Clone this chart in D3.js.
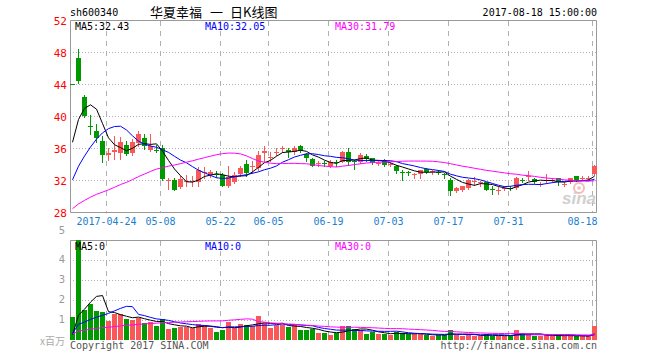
<!DOCTYPE html>
<html>
<head>
<meta charset="utf-8">
<script src="https://cdn.jsdelivr.net/npm/d3@7/dist/d3.min.js"></script>
<style>
body { margin: 0; background: #fff; }
text { font-family: "DejaVu Sans Mono", monospace; font-size: 10px; }
</style>
</head>
<body>
<div id="chart"></div>
<script>
// Data -- daily K line, sh600340
var dates = [
	"2017-04-14","2017-04-17","2017-04-18","2017-04-19","2017-04-20","2017-04-21","2017-04-24","2017-04-25","2017-04-26","2017-04-27","2017-04-28",
	"2017-05-02","2017-05-03","2017-05-04","2017-05-05","2017-05-08","2017-05-09","2017-05-10","2017-05-11","2017-05-12",
	"2017-05-15","2017-05-16","2017-05-17","2017-05-18","2017-05-19","2017-05-22","2017-05-23","2017-05-24","2017-05-25","2017-05-26","2017-05-31",
	"2017-06-01","2017-06-02","2017-06-05","2017-06-06","2017-06-07","2017-06-08","2017-06-09","2017-06-12","2017-06-13","2017-06-14","2017-06-15","2017-06-16",
	"2017-06-19","2017-06-20","2017-06-21","2017-06-22","2017-06-23","2017-06-26","2017-06-27","2017-06-28","2017-06-29","2017-06-30",
	"2017-07-03","2017-07-04","2017-07-05","2017-07-06","2017-07-07","2017-07-10","2017-07-11","2017-07-12","2017-07-13","2017-07-14",
	"2017-07-17","2017-07-18","2017-07-19","2017-07-20","2017-07-21","2017-07-24","2017-07-25","2017-07-26","2017-07-27","2017-07-28","2017-07-31",
	"2017-08-01","2017-08-02","2017-08-03","2017-08-04","2017-08-07","2017-08-08","2017-08-09","2017-08-10","2017-08-11",
	"2017-08-14","2017-08-15","2017-08-16","2017-08-17","2017-08-18"
];
var open = [
	44.02,47.3,42.4,38.8,38.1,36.9,35.1,35.45,35.4,36.4,35.4,
	36.6,37.3,35.8,35.75,36.0,31.9,32.05,31.1,31.75,
	31.8,31.8,32.9,32.6,32.75,32.6,31.2,31.8,32.7,34.0,33.6,
	33.5,35.4,34.8,35.4,35.9,35.7,35.5,36.2,35.3,34.65,34.05,34.15,
	33.7,34.25,34.3,35.5,34.35,34.3,35.0,34.7,34.05,34.5,
	33.95,33.8,33.05,32.95,32.65,32.7,33.4,33.05,33.05,32.75,
	32.0,30.6,30.7,31.0,31.8,31.65,31.7,30.85,30.75,30.95,31.05,
	31.0,32.05,32.4,32.1,31.45,31.95,31.95,32.2,31.45,
	31.7,32.45,32.15,32.15,32.7
];
var high = [
	44.02,48.4,42.66,40.1,39.0,37.45,36.0,37.45,37.4,36.9,37.1,
	38.1,37.8,37.8,36.4,36.4,32.25,32.3,32.5,32.6,
	32.5,33.6,33.6,33.3,33.1,32.9,33.7,33.0,33.8,34.5,34.4,
	35.6,36.2,35.5,36.0,36.3,36.0,36.2,36.4,35.4,34.7,34.4,34.4,
	34.5,34.5,35.6,36.0,34.5,35.4,35.2,34.8,34.4,34.6,
	34.2,33.9,33.3,33.1,32.9,33.3,33.5,33.3,33.2,32.9,
	32.2,31.1,31.3,32.1,32.4,31.9,31.8,31.2,31.1,31.3,31.3,
	32.4,32.3,33.1,32.3,31.7,32.7,32.3,32.3,31.7,
	32.3,32.5,32.5,32.5,33.9
];
var low = [
	44.02,44.1,39.9,37.7,36.75,34.2,34.5,34.6,34.6,35.1,35.1,
	36.3,35.85,35.6,35.45,32.0,30.9,30.7,30.95,31.2,
	31.3,31.2,32.3,32.4,32.4,31.2,31.1,31.6,32.5,32.5,32.9,
	33.3,34.3,34.4,35.1,35.5,34.9,35.3,35.5,34.4,33.8,33.8,33.8,
	33.6,33.8,34.2,33.9,33.4,34.1,34.4,34.0,33.9,33.7,
	33.7,32.9,32.0,32.6,32.3,32.3,32.9,32.8,32.7,32.3,
	30.1,30.5,30.6,30.9,31.4,31.3,30.7,30.2,30.2,30.8,30.8,
	30.9,31.7,32.0,31.6,31.3,31.6,31.8,31.4,31.3,
	31.6,31.9,32.0,32.0,32.6
];
var close = [
	44.02,44.35,40.0,38.6,37.3,35.1,35.35,35.7,36.8,35.3,36.7,
	37.75,36.2,36.3,35.65,32.1,32.0,30.8,32.15,31.85,
	31.9,33.3,33.0,33.0,32.7,31.3,32.4,32.6,33.5,32.9,33.7,
	35.15,35.6,34.9,35.5,36.0,35.5,36.0,35.6,34.8,33.8,34.1,34.1,
	34.2,34.2,35.5,34.3,34.3,35.1,34.6,34.1,34.1,33.9,
	34.0,33.1,33.0,32.9,32.7,33.2,33.0,33.1,33.0,32.7,
	30.6,31.0,31.2,32.0,31.85,31.7,30.8,30.8,30.8,31.0,31.0,
	32.25,32.0,32.45,31.7,31.5,32.0,32.0,31.7,31.5,
	32.2,31.95,32.2,32.2,33.8
];
// volume, millions of shares
var volume = [
	1.17,4.98,1.5,1.8,1.45,1.38,0.95,1.28,1.28,1.05,1.0,
	1.12,0.87,0.92,0.72,1.03,0.55,0.58,0.67,0.63,
	0.62,0.8,0.75,0.62,0.42,0.5,0.92,0.62,0.78,0.75,0.7,
	1.2,0.87,0.62,0.75,0.75,0.63,0.75,0.5,0.5,0.55,0.37,0.33,
	0.25,0.33,0.7,0.7,0.53,0.5,0.3,0.42,0.3,0.3,
	0.25,0.42,0.33,0.28,0.28,0.3,0.25,0.2,0.25,0.25,
	0.5,0.25,0.22,0.25,0.22,0.2,0.3,0.2,0.2,0.2,0.2,
	0.5,0.33,0.3,0.2,0.2,0.25,0.2,0.25,0.2,
	0.2,0.2,0.2,0.2,0.7
];
// the 29 sessions before the window, only used for the moving averages
var prevClose = [
	26.5,26.8,26.4,26.7,26.9,26.6,26.3,26.5,26.8,26.6,26.4,26.7,26.5,26.9,26.6,26.4,26.7,26.8,26.5,26.6,
	27.33,27.33,27.33,27.33,27.33,30.06,33.07,36.38,40.02
];
var prevVolume = [
	0.3,0.25,0.28,0.26,0.3,0.24,0.27,0.29,0.25,0.28,0.26,0.3,0.27,0.25,0.28,0.26,0.27,0.29,0.26,0.28,
	0.42,0.4,0.43,0.38,0.42,0.02,0.02,0.02,0.02
];
var priceTicks = [28, 32, 36, 40, 44, 48, 52];
var volTicks = [1, 2, 3, 4, 5];
var gridDates = ["2017-04-24","2017-05-08","2017-05-22","2017-06-05","2017-06-19","2017-07-03","2017-07-17","2017-07-31","2017-08-18"];
var dateLabels = ["2017-04-24","05-08","05-22","06-05","06-19","07-03","07-17","07-31","08-18"];
var maNames = ["MA5", "MA10", "MA30"];
var maPeriods = [5, 10, 30];
var maColors = ["#000000", "#0000ff", "#ff00ff"];
var priceMaText = ["32.43", "32.05", "31.79"];
var volMaText = ["0", "0", "0"];

// Variables
var width = 660,
	height = 360,
	left = 70,
	right = 597,
	red = "#f85858",
	green = "#009900";

var svg = d3.select("#chart").append("svg")
	.attr("width", width)
	.attr("height", height);

var x = d3.scaleBand()
	.domain(dates)
	.range([left, right])
	.paddingInner(1 / 6)
	.paddingOuter(0);

var y = d3.scaleLinear()
	.domain([28, 52])
	.range([212, 20]);

var yv = d3.scaleLinear()
	.domain([0, 5])
	.range([340, 240]);

function movingAvg(hist, vals, n) {
	var all = hist.concat(vals);
	return vals.map(function(v, i) {
		var end = hist.length + i + 1;
		return d3.mean(all.slice(end - n, end));
	});
}

function colorOf(i) {
	return close[i] > open[i] ? red : green;
}

var idx = d3.range(dates.length);
var cx = function(i) { return x(dates[i]) + x.bandwidth() / 2; };

// grid: dotted horizontals, dashed verticals
function grid(scale, ticks, top, bottom) {
	svg.append("g")
		.selectAll("line")
		.data(ticks)
	  .enter().append("line")
		.attr("x1", left).attr("x2", right)
		.attr("y1", function(d) { return Math.round(scale(d)) + 0.5; })
		.attr("y2", function(d) { return Math.round(scale(d)) + 0.5; })
		.attr("stroke", "#b0b0b0")
		.attr("stroke-dasharray", "1,2");
	svg.append("g")
		.selectAll("line")
		.data(gridDates)
	  .enter().append("line")
		.attr("x1", function(d) { return x(d) + 0.5; })
		.attr("x2", function(d) { return x(d) + 0.5; })
		.attr("y1", top).attr("y2", bottom)
		.attr("stroke", "#b0b0b0")
		.attr("stroke-dasharray", "5,5");
}
grid(y, [32, 36, 40, 44, 48], 21, 212);
grid(yv, [1, 2, 3, 4], 241, 340);

// sina watermark
var mark = svg.append("g").attr("opacity", 0.9);
mark.append("circle").attr("cx", 579).attr("cy", 188).attr("r", 5)
	.attr("fill", "none").attr("stroke", "#f2b4b4").attr("stroke-width", 2);
mark.append("circle").attr("cx", 579).attr("cy", 188).attr("r", 1.8).attr("fill", "#f2b4b4");
mark.append("text").attr("x", 562).attr("y", 204)
	.style("font-family", "'Liberation Sans', sans-serif")
	.style("font-size", "17px").style("font-style", "italic").style("font-weight", "bold")
	.attr("fill", "#cccccc").text("sina");

// frames
svg.append("path")
	.attr("d", "M" + (left + 0.5) + ",212.5V20.5H" + (right - 0.5) + "V212.5H" + (left + 0.5))
	.attr("fill", "none").attr("stroke", "#999");
svg.append("path")
	.attr("d", "M" + (left + 0.5) + ",340V240.5H" + (right - 0.5) + "V340")
	.attr("fill", "none").attr("stroke", "#999");

// volume bars
svg.append("g")
	.selectAll("rect")
	.data(idx)
  .enter().append("rect")
	.attr("x", function(i) { return x(dates[i]); })
	.attr("y", function(i) { return Math.round(yv(volume[i])); })
	.attr("width", x.bandwidth())
	.attr("height", function(i) { return 340 - Math.round(yv(volume[i])); })
	.attr("fill", colorOf)
	.attr("shape-rendering", "crispEdges");

// candles
var candle = svg.append("g")
	.selectAll("g")
	.data(idx)
  .enter().append("g");
candle.append("line")
	.attr("x1", function(i) { return Math.floor(cx(i)) + 0.5; })
	.attr("x2", function(i) { return Math.floor(cx(i)) + 0.5; })
	.attr("y1", function(i) { return Math.round(y(high[i])); })
	.attr("y2", function(i) { return Math.round(y(low[i])) + 1; })
	.attr("stroke", colorOf);
candle.append("rect")
	.attr("x", function(i) { return x(dates[i]); })
	.attr("y", function(i) { return Math.round(y(Math.max(open[i], close[i]))); })
	.attr("width", x.bandwidth())
	.attr("height", function(i) {
		return Math.max(1, Math.round(y(Math.min(open[i], close[i]))) - Math.round(y(Math.max(open[i], close[i]))));
	})
	.attr("fill", colorOf)
	.attr("shape-rendering", "crispEdges");

// moving averages, price and volume
maPeriods.forEach(function(n, k) {
	var pm = movingAvg(prevClose, close, n),
		vm = movingAvg(prevVolume, volume, n);
	svg.append("path")
		.datum(idx)
		.attr("fill", "none")
		.attr("stroke", maColors[k])
		.attr("d", d3.line().x(cx).y(function(i) { return y(pm[i]); }));
	svg.append("path")
		.datum(idx)
		.attr("fill", "none")
		.attr("stroke", maColors[k])
		.attr("d", d3.line().x(cx).y(function(i) { return yv(vm[i]); }));
});

// axes
svg.append("g")
	.attr("transform", "translate(" + left + ",1)")
	.call(d3.axisLeft(y).tickValues(priceTicks).tickSize(0).tickPadding(3))
	.call(function(g) { g.select(".domain").remove(); })
	.selectAll("text")
	.attr("fill", "#ff0000")
	.style("font-size", "11px");

svg.append("g")
	.attr("transform", "translate(" + left + ",0)")
	.call(d3.axisLeft(yv).tickValues(volTicks).tickSize(0).tickPadding(5).tickFormat(d3.format("d")))
	.call(function(g) { g.select(".domain").remove(); })
	.selectAll("text")
	.attr("fill", "#999")
	.attr("dy", function(d) { return d === 5 ? "-0.7em" : "0.25em"; })
	.style("font-family", "'DejaVu Sans', sans-serif")
	.style("font-size", "10px");

svg.append("g")
	.attr("transform", "translate(0,212)")
	.call(d3.axisBottom(x).tickValues(gridDates).tickSize(0).tickPadding(6)
		.tickFormat(function(d) { return dateLabels[gridDates.indexOf(d)]; }))
	.call(function(g) { g.select(".domain").remove(); })
	.selectAll("text")
	.attr("fill", "#1a80d0")
	.attr("dx", function(d, i) { return i === gridDates.length - 1 ? "3" : "-2"; })
	.attr("text-anchor", function(d, i) { return i === gridDates.length - 1 ? "end" : "middle"; })
	.style("font-size", "10px");

// texts
svg.append("text").attr("x", 70).attr("y", 16).text("sh600340");
var titleParts = ["华夏幸福", "一", "日K线图"],
	titleX = [150, 210, 230];
titleParts.forEach(function(t, k) {
	svg.append("text").attr("x", titleX[k]).attr("y", 17)
		.style("font-family", "'Noto Sans CJK SC', sans-serif").style("font-size", "13px")
		.text(t);
});
svg.append("text").attr("x", 597).attr("y", 16).attr("text-anchor", "end").text("2017-08-18 15:00:00");

var labelX = [75, 205, 335];
maNames.forEach(function(name, k) {
	svg.append("text").attr("x", labelX[k]).attr("y", 30)
		.attr("fill", maColors[k]).text(name + ":" + priceMaText[k]);
	svg.append("text").attr("x", labelX[k]).attr("y", 250)
		.attr("fill", maColors[k]).text(name + ":" + volMaText[k]);
});

svg.append("text").attr("x", 65).attr("y", 345).attr("text-anchor", "end")
	.attr("fill", "#aaa")
	.style("font-family", "'Noto Sans CJK SC', sans-serif").style("font-size", "10px")
	.text("x百万");
svg.append("text").attr("x", 70).attr("y", 349).attr("fill", "#555").text("Copyright 2017 SINA.COM");
svg.append("text").attr("x", 597).attr("y", 349).attr("text-anchor", "end").attr("fill", "#555")
	.text("http://finance.sina.com.cn");
</script>
</body>
</html>
